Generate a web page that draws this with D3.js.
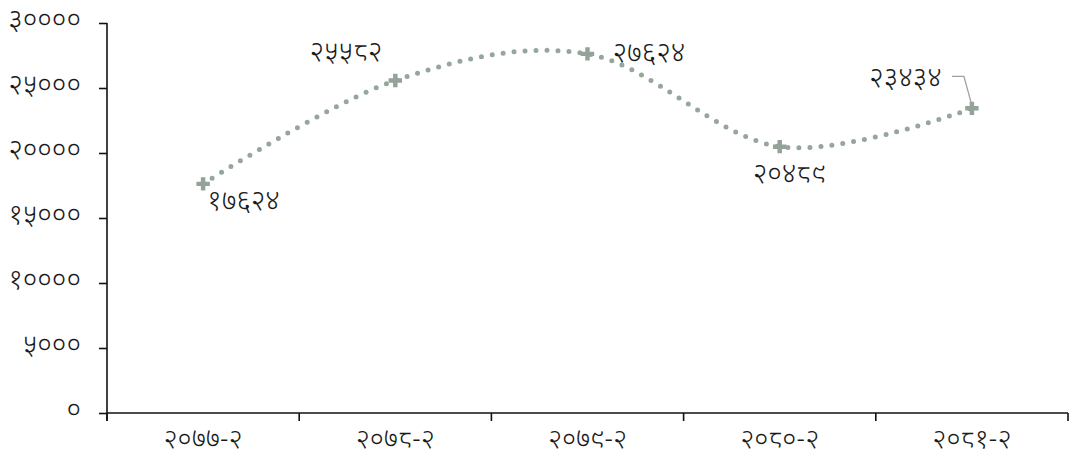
<!DOCTYPE html>
<html lang="ne">
<head>
    <meta charset="utf-8">
    <title>Chart</title>
    <script type="text/javascript" src="https://d3js.org/d3.v7.min.js"></script>
    <style type="text/css">
        body {
            margin: 0;
            background: #ffffff;
        }

        text {
            font-family: "Noto Sans Devanagari", "Lohit Devanagari", "Noto Sans", sans-serif;
            font-weight: 300;
            fill: #1a1a1a;
        }

        .axis path,
        .axis line {
            stroke: #111;
            stroke-width: 1.6px;
        }
    </style>
</head>

<body>
    <div id="graph"></div>
    <script type="text/javascript">

        // data
        var categories = ["२०७७-२", "२०७८-२", "२०७९-२", "२०८०-२", "२०८१-२"];
        var values = [17624, 25582, 27624, 20489, 23434];
        var valueLabels = ["१७६२४", "२५५८२", "२७६२४", "२०४८९", "२३४३४"];
        var yTicks = [0, 5000, 10000, 15000, 20000, 25000, 30000];
        var yTickLabels = ["०", "५०००", "१००००", "१५०००", "२००००", "२५०००", "३००००"];

        var fontSize = "28px";

        var margin = { top: 23, right: 1, bottom: 48, left: 107 },
            width = 1069 - margin.left - margin.right,
            height = 461 - margin.top - margin.bottom;

        var svg = d3.select("#graph")
            .append("svg")
            .attr("width", 1069)
            .attr("height", 461)
            .append("g")
            .attr("transform", `translate(${margin.left}, ${margin.top})`);

        var x = d3.scaleBand()
            .domain(categories)
            .range([0, width]);

        var y = d3.scaleLinear()
            .domain([0, 30000])
            .range([height, 0]);

        // y axis
        var yAxis = svg.append("g")
            .attr("class", "axis")
            .call(d3.axisLeft(y)
                .tickValues(yTicks)
                .tickSize(8)
                .tickPadding(18)
                .tickFormat(function (d, i) { return yTickLabels[i]; }));
        yAxis.select(".domain").attr("d", `M0,0V${height + 8}`);
        yAxis.selectAll("text").style("font-size", fontSize).attr("dy", "0.2em");

        // x axis with ticks on band edges
        var xAxis = svg.append("g")
            .attr("class", "axis")
            .attr("transform", `translate(0, ${height})`)
            .call(d3.axisBottom(x).tickSize(0).tickPadding(16));
        xAxis.select(".domain").attr("d", `M0,0H${width}`);
        xAxis.selectAll("text").style("font-size", "27px");
        xAxis.selectAll(".edge")
            .data(d3.range(categories.length + 1))
            .enter()
            .append("line")
            .attr("x1", function (i) { return i * x.step(); })
            .attr("x2", function (i) { return i * x.step(); })
            .attr("y1", 0)
            .attr("y2", 8);

        var px = function (d, i) { return x(categories[i]) + x.bandwidth() / 2; };
        var py = function (d) { return y(d); };

        // smooth dotted line
        var line = d3.line()
            .x(px)
            .y(py)
            .curve(d3.curveCardinal.tension(0));

        svg.append("path")
            .datum(values)
            .attr("d", line)
            .attr("fill", "none")
            .attr("stroke", "#96a69c")
            .attr("stroke-width", 5)
            .attr("stroke-linecap", "round")
            .attr("stroke-dasharray", "0 11");

        // markers
        svg.selectAll(".marker")
            .data(values)
            .enter()
            .append("path")
            .attr("class", "marker")
            .attr("d", d3.symbol().type(d3.symbolCross).size(100))
            .attr("transform", function (d, i) { return `translate(${px(d, i)}, ${py(d)})`; })
            .attr("fill", "#93a399");

        // label placement per point: [dx, dy, anchor]
        var place = [[4, 19, "start"], [-13, -26, "end"], [25, 1, "start"], [-27, 29, "start"], [-30, -28, "end"]];

        svg.selectAll(".vlabel")
            .data(values)
            .enter()
            .append("text")
            .attr("class", "vlabel")
            .attr("x", function (d, i) { return px(d, i) + place[i][0]; })
            .attr("y", function (d, i) { return py(d) + place[i][1]; })
            .attr("dy", "0.25em")
            .attr("text-anchor", function (d, i) { return place[i][2]; })
            .style("font-size", fontSize)
            .text(function (d, i) { return valueLabels[i]; });

        // leader line for last label
        var last = values.length - 1;
        var lx = px(values[last], last), ly = py(values[last]);
        svg.append("path")
            .attr("d", `M${lx - 20},${ly - 32}H${lx - 8}L${lx},${ly - 3}`)
            .attr("fill", "none")
            .attr("stroke", "#a0a0a0")
            .attr("stroke-width", 1.3);

    </script>
</body>
</html>
